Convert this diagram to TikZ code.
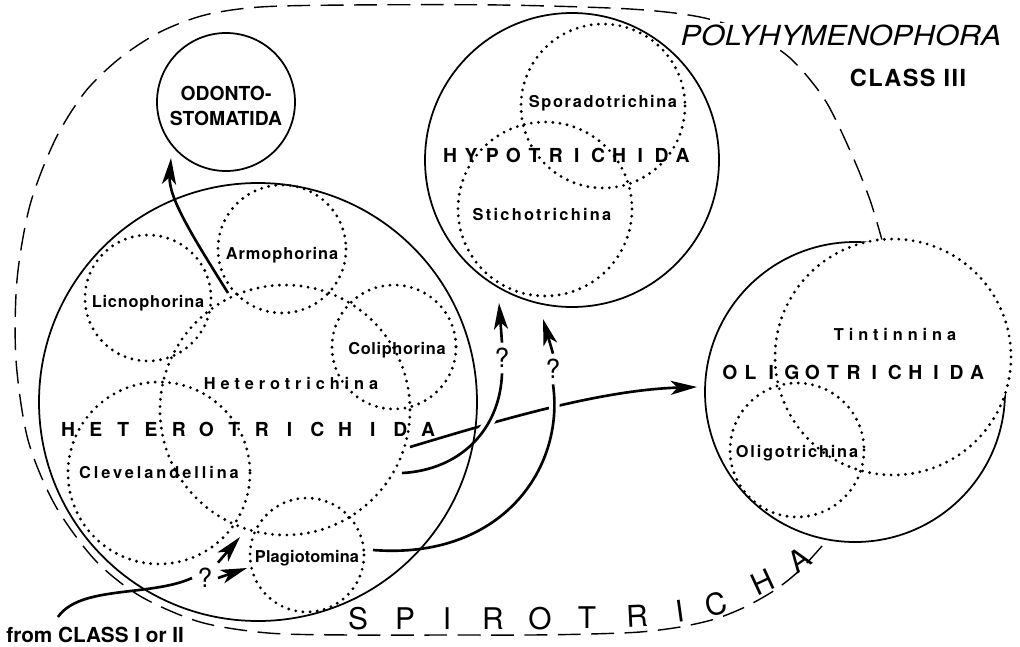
\documentclass[tikz,border=0pt]{standalone}
\usepackage{fontspec}
\usepackage{graphicx}
\setmainfont{TeX Gyre Heros}
\usetikzlibrary{arrows.meta}
\newcommand\lsp[2]{{\addfontfeatures{LetterSpace=#1}#2}}
\begin{document}
\begin{tikzpicture}[x=0.02cm,y=-0.02cm,
  solidc/.style={line width=1pt},
  dotc/.style={line width=1.8pt, line cap=round, dash pattern=on 0pt off 4.1pt},
  arr/.style={line width=1.5pt, -{Stealth[length=15pt,width=8pt,inset=4pt]}},
  lin/.style={line width=1.5pt},
  halo/.style={preaction={draw=white,line width=6pt}},
  lab/.style={font=\bfseries\fontsize{9.3}{10}\selectfont, inner sep=0pt},
  big/.style={font=\bfseries\fontsize{11}{12}\selectfont, inner sep=0pt},
  spi/.style={font=\fontsize{17}{18}\selectfont, inner sep=0pt},
  qm/.style={font=\fontsize{15}{16}\selectfont, inner sep=3pt},
  bnd/.style={line width=0.8pt, dash pattern=on 13pt off 6pt}
]
\useasboundingbox (0,0) rectangle (1020,646);

% boundary of Spirotricha / Polyhymenophora
\draw[bnd] plot[smooth] coordinates {(822,546) (800,570) (775,590) (745,607) (715,619) (680,627) (640,632) (590,634) (530,635) (450,635) (350,635) (268,633) (200,622) (140,596) (95,560) (55,505) (28,440) (16,360) (17,280) (30,205) (55,140) (85,92) (120,58) (160,32) (205,15) (260,7) (350,5) (500,5) (630,9) (700,17) (750,33) (790,58) (825,100) (852,155) (870,200) (882,240)};

\foreach \l/\x/\y/\r [count=\i] in {S/358/619/0, P/405/619/0, I/447/619/0, R/493/619/0, O/540/619/0, T/587/618/0, R/637/616/3, I/680/611/8, C/716/604/15, H/763/582/25, A/799/560/35}
  \node[spi, rotate=\r] (sp\i) at (\x,\y) {\l};

\node[font=\itshape\fontsize{15.7}{17}\selectfont, fill=white, inner sep=1pt] (poly) at (841,35) {\scalebox{1.11}[1]{POLYHYMENOPHORA}};
\node[font=\bfseries\fontsize{13.4}{15}\selectfont, inner sep=0pt] (cls) at (908,78) {\lsp{6}{CLASS III}};

% coordinates
\coordinate (odoC) at (226,102);
\coordinate (hetC) at (258,402);
\coordinate (hypC) at (572,160);
\coordinate (oliC) at (855,392);
\coordinate (tinC) at (893,357);

% arrows
\coordinate (gA) at (410,447); \coordinate (gB) at (697,387);
\draw[arr] (gA) .. controls (500,420) and (600,390) .. (gB);

\node[qm] (q1) at (502,358) {?};
\coordinate (h1A) at (402,473); \coordinate (h1B) at (499,303);
\draw[lin,halo] (h1A) .. controls (460,470) and (500,430) .. (q1.south);
\draw[arr] (q1.north) -- (h1B);

\node[qm] (q2) at (553,369) {?};
\coordinate (h2A) at (373,550); \coordinate (h2B) at (543,319);
\draw[lin,halo] (h2A) .. controls (500,560) and (565,470) .. (q2.south);
\draw[arr] (q2.north) -- (h2B);

\coordinate (oA) at (228,293); \coordinate (oB) at (171,158);
\draw[arr] (oA) .. controls (195,240) and (168,198) .. (oB);

\node[font=\bfseries\fontsize{11.8}{13}\selectfont, anchor=west, inner sep=0pt] (from) at (6,635) {from CLASS I or II};
\node[qm] (q3) at (205,578) {?};
\coordinate (cA) at (58,617); \coordinate (c1) at (240,537); \coordinate (c2) at (247,568);
\draw[lin] (cA) .. controls (80,585) and (150,597) .. (q3.west);
\draw[arr] (q3.north east) -- (c1);
\draw[arr] (q3.east) -- (c2);

% solid circles
\draw[solidc] (odoC) circle[radius=69];
\draw[solidc] (hetC) circle[radius=219];
\draw[solidc] (hypC) circle[radius=147];
\draw[solidc] (oliC) circle[radius=150];
\fill[white] (tinC) circle[radius=118];

% dotted circles
\draw[dotc] (282,249) circle[radius=64];  % Armophorina
\draw[dotc] (148,298) circle[radius=63];  % Licnophorina
\draw[dotc] (285,410) circle[radius=125]; % Heterotrichina
\draw[dotc] (394,347) circle[radius=62];  % Coliphorina
\draw[dotc] (159,473) circle[radius=91];  % Clevelandellina
\draw[dotc] (307,555) circle[radius=57];  % Plagiotomina
\draw[dotc] (603,106) circle[radius=82];  % Sporadotrichina
\draw[dotc] (545,209) circle[radius=87];  % Stichotrichina
\draw[dotc] (tinC) circle[radius=118];    % Tintinnina
\draw[dotc] (797,450) circle[radius=67];  % Oligotrichina

% labels
\node[font=\bfseries\fontsize{11}{14}\selectfont, align=center, inner sep=0pt] (odo) at (226,106) {ODONTO-\\STOMATIDA};
\node[lab] (armo) at (282,255) {\lsp{6}{Armophorina}};
\node[lab] (licn) at (148,303) {\lsp{5}{Licnophorina}};
\node[lab] (heto) at (291,383) {\lsp{30}{Heterotrichina}};
\node[lab] (coli) at (397,350) {\lsp{4}{Coliphorina}};
\node[lab] (clev) at (159,473) {\lsp{18}{Clevelandellina}};
\node[lab] (plag) at (307,558) {\lsp{1}{Plagiotomina}};
\node[lab] (spor) at (603,103) {\lsp{10}{Sporadotrichina}};
\node[lab] (stic) at (542,215) {\lsp{14}{Stichotrichina}};
\node[lab] (tint) at (895,334) {\lsp{30}{Tintinnina}};
\node[lab] (olgn) at (797,453) {\lsp{11}{Oligotrichina}};

\foreach \l [count=\i from 0] in {H,Y,P,O,T,R,I,C,H,I,D,A}
  \node[big] (hy\i) at (450+21.15*\i,155) {\l};
\foreach \l [count=\i from 0] in {O,L,I,G,O,T,R,I,C,H,I,D,A}
  \node[big] (ol\i) at (730+20.6*\i,372) {\l};
\foreach \l [count=\i from 0] in {H,E,T,E,R,O,T,R,I,C,H,I,D,A}
  \node[big] (he\i) at (68+27.7*\i,429) {\l};
\end{tikzpicture}
\end{document}
